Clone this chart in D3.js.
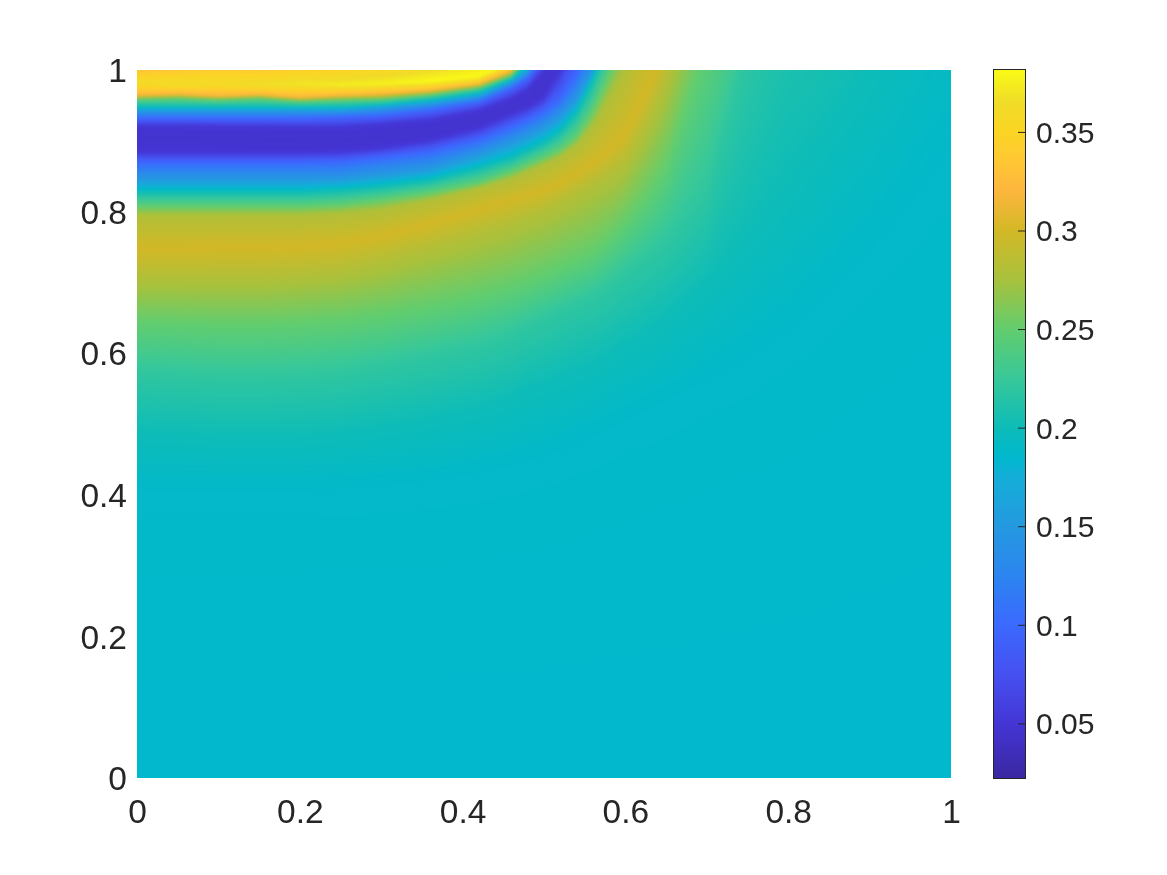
<!DOCTYPE html>
<html>
<head>
<meta charset="utf-8">
<script src="https://cdn.jsdelivr.net/npm/d3@7"></script>
<style>
html,body{margin:0;padding:0;background:#fff;}
#wrap{position:relative;width:1167px;height:875px;overflow:hidden;}
#field{position:absolute;left:137px;top:70px;}
svg{position:absolute;left:0;top:0;}
text{font-family:"Liberation Sans",Arial,sans-serif;fill:#262626;}
</style>
</head>
<body>
<div id="wrap"><canvas id="field" width="814" height="708"></canvas><svg id="chart" width="1167" height="875"></svg></div>
<script>
const columnX = [0,.05,.1,.15,.2,.25,.3,.36,.42,.46,.48,.5,.52,.54,.56,.58,.6,.625,.65,.7,.8,.9,1];

// Value carried by each isoline, ordered top of the plot to bottom
const capEdgeValues = [.31,.315,.325,.32,.325,.33,.335,.35,.365,.37,.37,.37,.37,.37,.37,.37,.37,.37,.37,.37,.37,.37,.37];
const capRidgeValues = [.362,.366,.362,.367,.371,.375,.377,.381,.381,.378,.365,.36,.36,.36,.36,.36,.36,.36,.36,.36,.36,.36,.36];
const levelValues = [null,null,.32,.25,.2,.15,.1,.05,.046,.05,.1,.15,.2,.25,.28,.3,.28,.25,.22,.2,.188,.186];

// Height (y in data units) of each isoline at each column
const capEdge   = [1.014,1.014,1.014,1.014,1.014,1.014,1.014,1.014,1.017,1.035,1.068,1.106,1.155,1.2,1.3,1.3,1.3,1.3,1.3,1.3,1.3,1.3,1.3];
const capRidge  = [.982,.98,.981,.979,.98,.978,.98,.983,.99,1.011,1.042,1.085,1.141,1.184,1.3,1.3,1.3,1.3,1.3,1.3,1.3,1.3,1.3];
const upper32   = [.964,.966,.963,.965,.961,.964,.966,.971,.98,.999,1.028,1.071,1.12,1.169,1.3,1.3,1.3,1.3,1.3,1.3,1.3,1.3,1.3];
const upper25   = [.959,.96,.958,.96,.956,.958,.959,.965,.975,.992,1.021,1.064,1.113,1.162,1.3,1.3,1.3,1.3,1.3,1.3,1.3,1.3,1.3];
const upper20   = [.948,.948,.948,.948,.948,.948,.951,.958,.968,.987,1.007,1.049,1.099,1.148,1.3,1.3,1.3,1.3,1.3,1.3,1.3,1.3,1.3];
const upper15   = [.942,.942,.942,.942,.942,.942,.946,.952,.962,.982,.997,1.035,1.085,1.141,1.3,1.3,1.3,1.3,1.3,1.3,1.3,1.3,1.3];
const upper10   = [.932,.932,.932,.932,.932,.934,.936,.944,.955,.975,.989,1.017,1.064,1.12,1.3,1.3,1.3,1.3,1.3,1.3,1.3,1.3,1.3];
const upper05   = [.921,.921,.92,.92,.919,.919,.923,.929,.943,.96,.973,1,1.056,1.12,1.184,1.3,1.3,1.3,1.3,1.3,1.3,1.3,1.3];
const trough    = [.905,.905,.904,.903,.901,.901,.905,.915,.929,.948,.958,.979,1.028,1.092,1.155,1.3,1.3,1.3,1.3,1.3,1.3,1.3,1.3];
const lower05   = [.884,.884,.884,.884,.884,.885,.89,.901,.918,.938,.947,.961,1,1.056,1.113,1.184,1.3,1.3,1.3,1.3,1.3,1.3,1.3];
const lower10   = [.869,.869,.869,.869,.869,.87,.876,.884,.901,.919,.929,.941,.958,.993,1.049,1.113,1.184,1.3,1.3,1.3,1.3,1.3,1.3];
const lower15   = [.845,.845,.845,.845,.845,.846,.852,.86,.88,.897,.907,.918,.934,.958,1,1.064,1.127,1.198,1.3,1.3,1.3,1.3,1.3];
const lower20   = [.828,.828,.828,.828,.828,.831,.836,.845,.862,.876,.887,.898,.914,.941,.986,1.049,1.106,1.177,1.3,1.3,1.3,1.3,1.3];
const lower25   = [.807,.807,.807,.807,.807,.809,.816,.826,.84,.856,.866,.876,.887,.905,.941,.993,1.049,1.127,1.198,1.3,1.3,1.3,1.3];
const lower28   = [.794,.794,.794,.794,.794,.797,.802,.816,.833,.846,.856,.866,.877,.893,.918,.958,1,1.085,1.155,1.3,1.3,1.3,1.3];
const goldRidge = [.747,.747,.749,.749,.75,.755,.765,.783,.804,.817,.823,.829,.84,.854,.868,.885,.908,.965,1.035,1.226,1.3,1.3,1.3];
const outer28   = [.706,.706,.706,.706,.709,.715,.727,.746,.767,.781,.791,.799,.811,.823,.836,.85,.866,.915,.979,1.155,1.3,1.3,1.3];
const outer25   = [.644,.643,.641,.641,.643,.647,.655,.667,.682,.695,.703,.712,.722,.732,.743,.761,.785,.819,.862,1.04,1.25,1.28,1.3];
const outer22   = [.573,.569,.566,.566,.568,.573,.583,.597,.612,.628,.64,.65,.661,.671,.681,.696,.715,.736,.76,.831,1.24,1.27,1.3];
const outer20   = [.487,.483,.48,.48,.48,.486,.494,.506,.52,.535,.548,.555,.565,.574,.583,.597,.612,.628,.647,.696,.831,1,1.24];
const outer19   = [.407,.407,.407,.407,.407,.41,.414,.421,.432,.442,.449,.456,.463,.475,.484,.494,.506,.52,.534,.562,.633,.746,.887];
const floorLine = [-.03,-.03,-.03,-.03,-.03,-.03,-.03,-.03,-.03,-.03,-.03,-.03,-.03,-.03,-.03,-.03,-.03,-.03,-.03,-.03,-.03,-.03,-.03];

const isolines = [capEdge,capRidge,upper32,upper25,upper20,upper15,upper10,upper05,trough,lower05,lower10,lower15,lower20,lower25,lower28,goldRidge,outer28,outer25,outer22,outer20,outer19,floorLine];

// Colour map
const colorDomain = [.0223,.05,.075,.1,.125,.15,.175,.185,.2,.225,.25,.275,.3,.32,.336,.35,.365,.3814];
const colorRange = ["#3a27a0","#4435d5","#4650f0","#3b69ff","#2c85f0","#2499e0","#14aed8","#00b8ce","#0dbcb8","#38c899","#62cd6e","#a8c13c","#d3b826","#fdb63e","#ffc833","#fbd524","#f0dc28","#f9fb15"];

const xTicks = [0,.2,.4,.6,.8,1];
const yTicks = [0,.2,.4,.6,.8,1];
const barTicks = [.05,.1,.15,.2,.25,.3,.35];
const barDomain = [.0223,.3814];

const x = d3.scaleLinear().domain([0,1]).range([137,951]);
const y = d3.scaleLinear().domain([0,1]).range([778,70]);
const barY = d3.scaleLinear().domain(barDomain).range([778,70]);
const color = d3.scaleLinear().domain(colorDomain).range(colorRange).interpolate(d3.interpolateRgb).clamp(true);
const columnIndex = d3.scaleLinear().domain(columnX).range(columnX.map((d,i)=>i)).clamp(true);

// Colour lookup table
const lutSize = 2048;
const lut = d3.range(lutSize).map(i => {
  const c = d3.rgb(color(barDomain[0] + (barDomain[1]-barDomain[0])*i/(lutSize-1)));
  return [c.r,c.g,c.b];
});

// Shade the field between the isolines, like "shading interp"; a margin keeps the soft filter clean at the edges
const canvas = document.getElementById("field");
const ctx = canvas.getContext("2d");
const W = canvas.width, H = canvas.height, pad = 10;
const off = document.createElement("canvas");
off.width = W+2*pad; off.height = H+2*pad;
const offCtx = off.getContext("2d");
const img = offCtx.createImageData(off.width,off.height);
for (let px=0; px<off.width; px++) {
  const dataX = x.invert(137-pad+px+.5);
  const ci = columnIndex(dataX);
  const c0 = Math.min(Math.floor(ci), columnX.length-2), t = ci-c0;
  const ys = isolines.map(l => l[c0]*(1-t)+l[c0+1]*t);
  const vs = levelValues.map((v,i) => {
    if (v!==null) return v;
    const a = i===0 ? capEdgeValues : capRidgeValues;
    return a[c0]*(1-t)+a[c0+1]*t;
  });
  let k = 0;
  for (let py=0; py<off.height; py++) {
    const dataY = y.invert(70-pad+py+.5);
    while (k<ys.length-2 && dataY<ys[k+1]) k++;
    const span = ys[k]-ys[k+1];
    const f = span>0 ? Math.max(0,Math.min(1,(ys[k]-dataY)/span)) : 0;
    const v = vs[k]*(1-f)+vs[k+1]*f;
    const idx = Math.max(0,Math.min(lutSize-1,Math.round((v-barDomain[0])/(barDomain[1]-barDomain[0])*(lutSize-1))));
    const o = (py*off.width+px)*4, c = lut[idx];
    img.data[o]=c[0]; img.data[o+1]=c[1]; img.data[o+2]=c[2]; img.data[o+3]=255;
  }
}
offCtx.putImageData(img,0,0);
ctx.filter = "blur(1.5px)";
ctx.drawImage(off,-pad,-pad);
ctx.filter = "none";

const svg = d3.select("#chart");
const fmt = d => String(+d);
const axisFont = "33.5px", barFont = "30px";

// Main axes: the image hides their lines, only labels show
const gx = svg.append("g").attr("transform","translate(0,778)")
  .call(d3.axisBottom(x).tickValues(xTicks).tickFormat(fmt).tickSize(0).tickPadding(0));
gx.select(".domain").remove();
gx.selectAll("text").attr("y",33).attr("dy",".35em").style("font-size",axisFont).style("font-family",'"Liberation Sans",Arial,sans-serif').attr("fill","#262626");

const gy = svg.append("g").attr("transform","translate(137,0)")
  .call(d3.axisLeft(y).tickValues(yTicks).tickFormat(fmt).tickSize(0).tickPadding(0));
gy.select(".domain").remove();
gy.selectAll("text").attr("x",-10).attr("dy",".35em").style("font-size",axisFont).style("font-family",'"Liberation Sans",Arial,sans-serif').attr("fill","#262626");

// Colour bar
const defs = svg.append("defs");
const grad = defs.append("linearGradient").attr("id","bar").attr("x1",0).attr("y1",1).attr("x2",0).attr("y2",0);
colorDomain.forEach((v,i)=>grad.append("stop")
  .attr("offset",(v-barDomain[0])/(barDomain[1]-barDomain[0]))
  .attr("stop-color",colorRange[i]));
svg.append("rect").attr("x",993.5).attr("y",69.5).attr("width",32).attr("height",709)
  .attr("fill","url(#bar)").attr("stroke","#262626").attr("stroke-width",1);

const gb = svg.append("g").attr("transform","translate(1025,0)")
  .call(d3.axisRight(barY).tickValues(barTicks).tickFormat(fmt).tickSize(-7).tickPadding(0));
gb.select(".domain").remove();
gb.selectAll("line").attr("stroke","#262626");
gb.selectAll("text").attr("x",11).attr("dy",".35em").style("font-size",barFont).style("font-family",'"Liberation Sans",Arial,sans-serif').attr("fill","#262626");
</script>
</body>
</html>
